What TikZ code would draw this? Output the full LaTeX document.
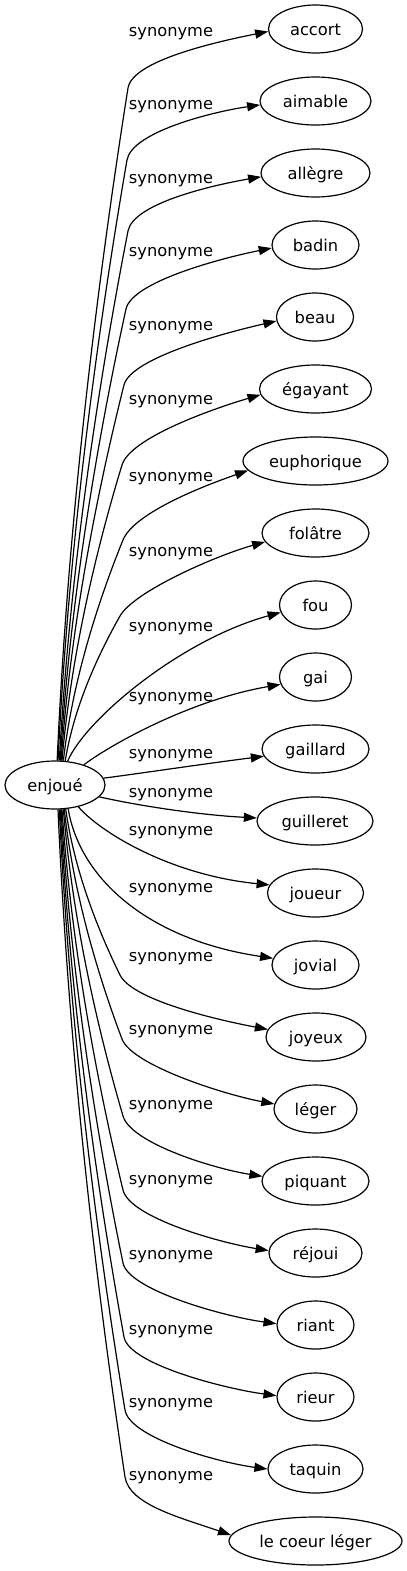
\documentclass[tikz,border=0pt]{standalone}
\usepackage{fontspec}
\setmainfont{DejaVu Sans}
\usetikzlibrary{shapes.geometric,arrows.meta,calc}
\tikzset{
  tgt/.style={ellipse, draw, line width=0.9pt, inner sep=0pt, minimum height=36pt, text height=11pt, text depth=2pt},
  lbl/.style={inner sep=0pt, text height=11pt, text depth=2pt},
  synarrow/.style={draw, line width=0.9pt, -{Triangle[length=9.75pt,width=6.75pt]}}
}
\newcommand\synedge[6]{%
  \draw[synarrow] let \p1=(enjoue.#1), \p2=(#2,#3), \p3=(#4.#5),
    \n1={veclen(0.45*(\x2-\x1),0.3*(\y2-\y1))} in
    (\p1) .. controls ({\x1+0.15*(\x2-\x1)},{\y1+0.35*(\y2-\y1)})
             and ({\x1+0.55*(\x2-\x1)},{\y1+0.7*(\y2-\y1)}) .. (\p2)
          .. controls ({\x2+21*0.45*(\x2-\x1)/\n1},{\y2+21*0.3*(\y2-\y1)/\n1})
             and ({\x3-37.5pt},{\y3-(#6)}) .. (\p3);
}
\begin{document}
\begin{tikzpicture}[x=0.75pt,y=-0.75pt,font=\fontsize{12.2pt}{14pt}\selectfont]
\useasboundingbox (0,0) rectangle (407,1571);
% nodes
\node[tgt, minimum width=75pt] (enjoue) at (55,785) {enjoué};
\node[tgt, minimum width=70.5pt] (accort) at (315.5,29) {accort};
\node[tgt, minimum width=83.25pt] (aimable) at (315.5,101) {aimable};
\node[tgt, minimum width=81.75pt] (allegre) at (315.5,173) {allègre};
\node[tgt, minimum width=65.25pt] (badin) at (315.5,245) {badin};
\node[tgt, minimum width=57.75pt] (beau) at (315,317) {beau};
\node[tgt, minimum width=84pt] (egayant) at (315.5,389) {égayant};
\node[tgt, minimum width=108.75pt] (euphorique) at (315.5,461) {euphorique};
\node[tgt, minimum width=80.25pt] (folatre) at (315.5,533) {folâtre};
\node[tgt, minimum width=54pt] (fou) at (315.5,605) {fou};
\node[tgt, minimum width=54pt] (gai) at (315.5,677) {gai};
\node[tgt, minimum width=80.25pt] (gaillard) at (315.5,749) {gaillard};
\node[tgt, minimum width=87pt] (guilleret) at (315,821) {guilleret};
\node[tgt, minimum width=72pt] (joueur) at (315.5,893) {joueur};
\node[tgt, minimum width=65.25pt] (jovial) at (315.5,965) {jovial};
\node[tgt, minimum width=75pt] (joyeux) at (316,1037) {joyeux};
\node[tgt, minimum width=62.25pt] (leger) at (315.5,1109) {léger};
\node[tgt, minimum width=80.25pt] (piquant) at (315.5,1181) {piquant};
\node[tgt, minimum width=69.75pt] (rejoui) at (315.5,1253) {réjoui};
\node[tgt, minimum width=57.75pt] (riant) at (315.5,1325) {riant};
\node[tgt, minimum width=57.75pt] (rieur) at (315.5,1397) {rieur};
\node[tgt, minimum width=71.25pt] (taquin) at (315.5,1469) {taquin};
\node[tgt, minimum width=129.75pt] (coeur) at (315.5,1541) {le coeur léger};
% labels
\node[lbl] (l0) at (171,30.4) {synonyme};
\node[lbl] (l1) at (171,103.7) {synonyme};
\node[lbl] (l2) at (171,177) {synonyme};
\node[lbl] (l3) at (171,250.4) {synonyme};
\node[lbl] (l4) at (171,324.4) {synonyme};
\node[lbl] (l5) at (171,398.7) {synonyme};
\node[lbl] (l6) at (171,475.4) {synonyme};
\node[lbl] (l7) at (171,550.4) {synonyme};
\node[lbl] (l8) at (171,625.4) {synonyme};
\node[lbl] (l9) at (171,695.4) {synonyme};
\node[lbl] (l10) at (171,752) {synonyme};
\node[lbl] (l11) at (171,791) {synonyme};
\node[lbl] (l12) at (171,829.7) {synonyme};
\node[lbl] (l13) at (171,886) {synonyme};
\node[lbl] (l14) at (171,955.4) {synonyme};
\node[lbl] (l15) at (171,1028.7) {synonyme};
\node[lbl] (l16) at (171,1103.7) {synonyme};
\node[lbl] (l17) at (171,1178.7) {synonyme};
\node[lbl] (l18) at (171,1253) {synonyme};
\node[lbl] (l19) at (171,1328) {synonyme};
\node[lbl] (l20) at (171,1401) {synonyme};
\node[lbl] (l21) at (171,1474.7) {synonyme};
% upper edges
\synedge{85}{128}{88}{accort}{183}{7.5pt}
\synedge{83}{127}{160}{aimable}{184}{5.5pt}
\synedge{80}{128}{231}{allegre}{184}{6.5pt}
\synedge{78}{126}{309}{badin}{184}{7.5pt}
\synedge{76}{124}{385}{beau}{186}{8.5pt}
\synedge{74}{122}{465}{egayant}{186}{11pt}
\synedge{71}{123}{540}{euphorique}{188}{13pt}
\synedge{67}{120}{616}{folatre}{190}{10.5pt}
\draw[synarrow] (enjoue.62) .. controls (85,720) and (180,640) .. (fou.192);
\draw[synarrow] (enjoue.35) .. controls (110,745) and (190,700) .. (gai.192);
% middle edges
\draw[synarrow] (enjoue.8) .. controls (150,772) and (210,763) .. (gaillard.188);
\draw[synarrow] (enjoue.-15) .. controls (140,806) and (200,815) .. (guilleret.177);
\draw[synarrow] (enjoue.-43) .. controls (100,832) and (170,875) .. (joueur.170);
\draw[synarrow] (enjoue.-61) .. controls (80,880) and (150,940) .. (jovial.171);
% lower edges
\synedge{-66}{120}{975}{joyeux}{171}{-7pt}
\synedge{-69}{122}{1039}{leger}{173}{-7pt}
\synedge{-71}{123}{1116}{piquant}{175}{-6pt}
\synedge{-74}{123}{1190}{rejoui}{177}{-6pt}
\synedge{-76}{123}{1263}{riant}{178}{-5pt}
\synedge{-78}{124}{1337}{rieur}{178}{-5pt}
\synedge{-80}{125}{1410}{taquin}{180}{-5pt}
\synedge{-83}{125}{1477}{coeur}{176}{-13pt}
\end{tikzpicture}
\end{document}
